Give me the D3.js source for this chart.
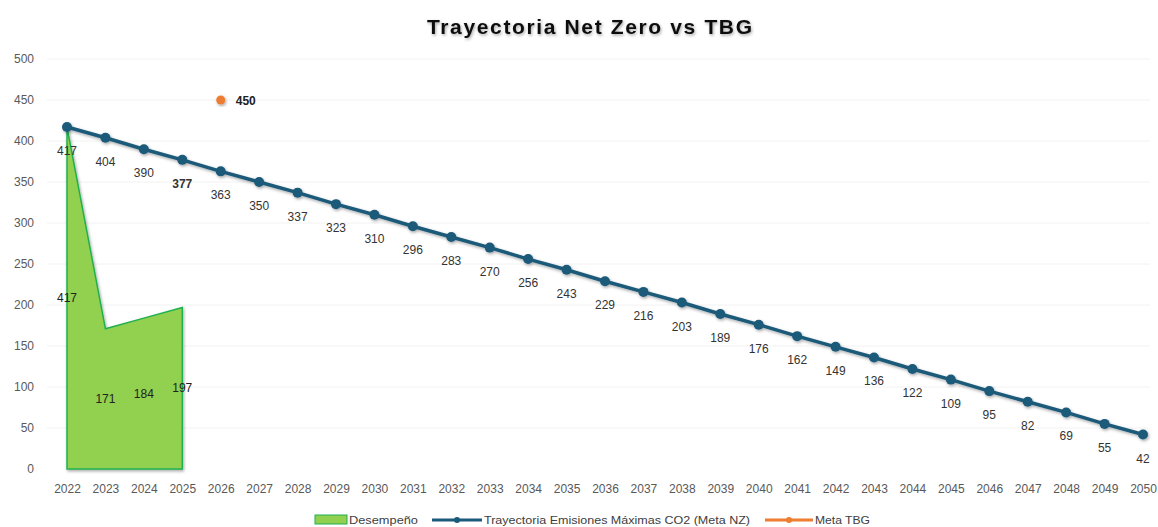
<!DOCTYPE html>
<html>
<head>
<meta charset="utf-8">
<script src="https://cdn.jsdelivr.net/npm/d3@7"></script>
<style>
  body { margin: 0; background: #fff; }
  svg { font-family: "Liberation Sans", Arial, sans-serif; }
</style>
</head>
<body>
<div id="chart"></div>
<script>

var years = d3.range(2022, 2051);
var trayectoria = [417, 404, 390, 377, 363, 350, 337, 323, 310, 296, 283, 270,
  256, 243, 229, 216, 203, 189, 176, 162, 149, 136, 122, 109, 95, 82, 69, 55, 42];
var desempenoYears = [2022, 2023, 2024, 2025];
var desempeno = [417, 171, 184, 197];
var metaYear = [2026];
var metaTBG = [450];
var yTicks = [0, 50, 100, 150, 200, 250, 300, 350, 400, 450, 500];

var W = 1158, H = 527;
var blue = '#1b5a7a', green = '#92d050', orange = '#ed7d31';

var svg = d3.select('#chart').append('svg')
  .attr('width', W).attr('height', H);

// Soft drop shadow, like the spreadsheet styling.
var defs = svg.append('defs');
var f = defs.append('filter').attr('id', 'shadow')
  .attr('x', '-20%').attr('y', '-20%').attr('width', '140%').attr('height', '140%');
f.append('feDropShadow').attr('dx', 1).attr('dy', 1.5)
  .attr('stdDeviation', 1.5).attr('flood-color', '#000').attr('flood-opacity', 0.35);

var x = d3.scalePoint().domain(years).range([67, 1143]);
var y = d3.scaleLinear().domain([0, 500]).range([469, 59]);

// Title.
svg.append('text')
  .attr('x', 427).attr('y', 34)
  .attr('textLength', 325).attr('lengthAdjust', 'spacing')
  .attr('font-size', 21).attr('font-weight', 'bold')
  .attr('fill', '#111')
  .attr('filter', 'url(#shadow)')
  .text('Trayectoria Net Zero vs TBG');

// Gridlines + y axis.
var yAxis = d3.axisLeft(y).tickValues(yTicks).tickSize(0).tickPadding(0);
var gy = svg.append('g').attr('transform', 'translate(34,0)').call(yAxis);
gy.select('.domain').remove();
gy.selectAll('text').attr('font-size', 12).attr('fill', '#595959');

svg.append('g').selectAll('line').data(yTicks.slice(1)).join('line')
  .attr('x1', 47).attr('x2', 1150)
  .attr('y1', function(d) { return y(d); })
  .attr('y2', function(d) { return y(d); })
  .attr('stroke', '#f2f2f2').attr('stroke-width', 1);

// X axis.
var xAxis = d3.axisBottom(x).tickSize(0).tickPadding(0);
var gx = svg.append('g').attr('transform', 'translate(0,484)').call(xAxis);
gx.select('.domain').remove();
gx.selectAll('text').attr('font-size', 12).attr('fill', '#595959');

// Desempeño area.
var area = d3.area()
  .x(function(d, i) { return x(desempenoYears[i]); })
  .y0(y(0))
  .y1(function(d) { return y(d); });
svg.append('path').datum(desempeno)
  .attr('d', area)
  .attr('fill', green).attr('stroke', '#1fb050').attr('stroke-width', 1.5)
  .attr('filter', 'url(#shadow)');

svg.append('g').selectAll('text').data(desempeno).join('text')
  .attr('x', function(d, i) { return x(desempenoYears[i]); })
  .attr('y', function(d) { return y(d / 2) + 4; })
  .attr('text-anchor', 'middle')
  .attr('font-size', 12).attr('fill', '#222')
  .text(function(d) { return d; });

// Trayectoria line.
var line = d3.line()
  .x(function(d, i) { return x(years[i]); })
  .y(function(d) { return y(d); });
var gl = svg.append('g').attr('filter', 'url(#shadow)');
gl.append('path').datum(trayectoria)
  .attr('d', line)
  .attr('fill', 'none').attr('stroke', blue).attr('stroke-width', 3.5);
gl.selectAll('circle').data(trayectoria).join('circle')
  .attr('cx', function(d, i) { return x(years[i]); })
  .attr('cy', function(d) { return y(d); })
  .attr('r', 5).attr('fill', blue);

svg.append('g').selectAll('text').data(trayectoria).join('text')
  .attr('x', function(d, i) { return x(years[i]); })
  .attr('y', function(d) { return y(d) + 28; })
  .attr('text-anchor', 'middle')
  .attr('font-size', 12).attr('fill', '#333')
  .attr('font-weight', function(d, i) { return years[i] === 2025 ? 'bold' : 'normal'; })
  .text(function(d) { return d; });

// Meta TBG point.
svg.append('g').selectAll('circle').data(metaTBG).join('circle')
  .attr('cx', function(d, i) { return x(metaYear[i]); })
  .attr('cy', function(d) { return y(d); })
  .attr('r', 4.5).attr('fill', orange)
  .attr('filter', 'url(#shadow)');
svg.append('g').selectAll('text').data(metaTBG).join('text')
  .attr('x', function(d, i) { return x(metaYear[i]) + 15; })
  .attr('y', function(d) { return y(d) + 5; })
  .attr('font-size', 12).attr('font-weight', 'bold').attr('fill', '#222')
  .text(function(d) { return d; });

// Legend.
var lg = svg.append('g').attr('font-size', 11).attr('fill', '#404040');
lg.append('rect').attr('x', 315).attr('y', 515).attr('width', 32).attr('height', 9)
  .attr('fill', green).attr('stroke', '#1fb050');
lg.append('text').attr('x', 349).attr('y', 524)
  .attr('textLength', 69).attr('lengthAdjust', 'spacingAndGlyphs')
  .text('Desempeño');

lg.append('line').attr('x1', 432).attr('x2', 482).attr('y1', 520).attr('y2', 520)
  .attr('stroke', blue).attr('stroke-width', 3);
lg.append('circle').attr('cx', 457).attr('cy', 520).attr('r', 3).attr('fill', blue);
lg.append('text').attr('x', 484).attr('y', 524)
  .attr('textLength', 266).attr('lengthAdjust', 'spacingAndGlyphs')
  .text('Trayectoria Emisiones Máximas CO2 (Meta NZ)');

lg.append('line').attr('x1', 765).attr('x2', 813).attr('y1', 520).attr('y2', 520)
  .attr('stroke', orange).attr('stroke-width', 3);
lg.append('circle').attr('cx', 789).attr('cy', 520).attr('r', 3).attr('fill', orange);
lg.append('text').attr('x', 815).attr('y', 524)
  .attr('textLength', 55).attr('lengthAdjust', 'spacingAndGlyphs')
  .text('Meta TBG');

</script>
</body>
</html>
